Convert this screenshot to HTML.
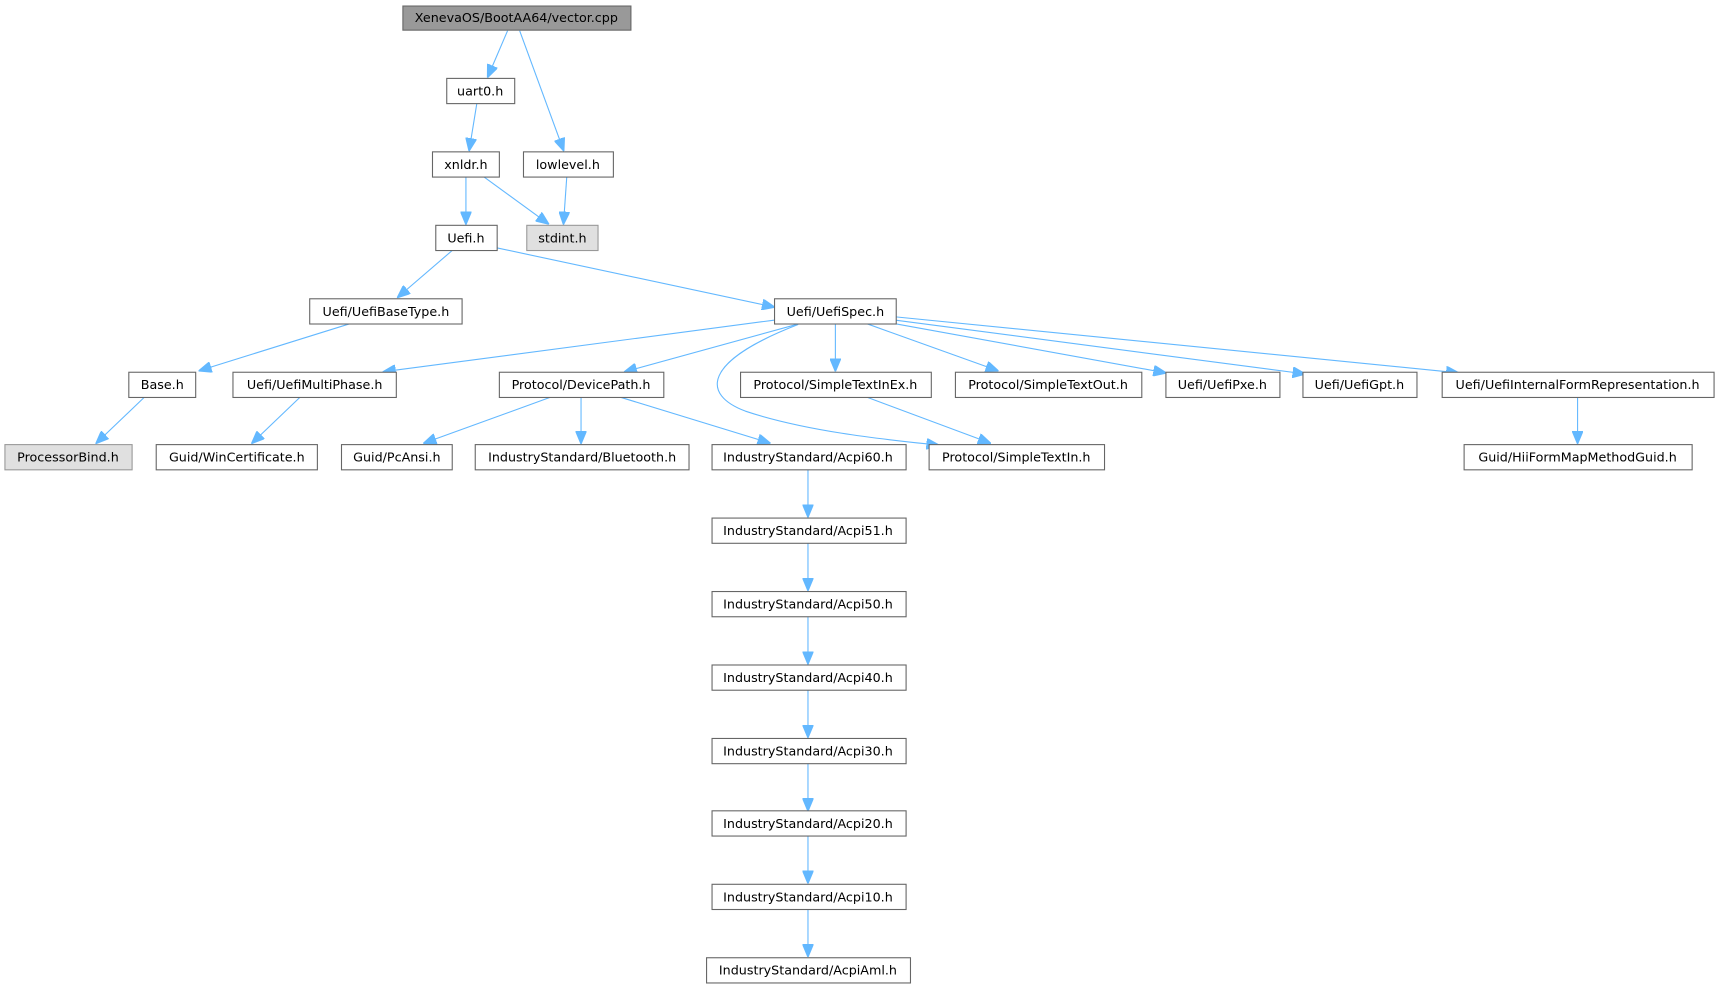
<!DOCTYPE html>
<html><head><meta charset="utf-8"><style>
html,body{margin:0;padding:0;background:#fff;}
svg{display:block;}
text{font-family:"DejaVu Sans","Liberation Sans",sans-serif;font-size:11.6px;fill:#000;}
.n{fill:#fff;stroke:#666;stroke-width:1;}
.g{fill:#e0e0e0;stroke:#999;stroke-width:1;}
.e{stroke:#63b8ff;stroke-width:1;fill:none;marker-end:url(#a);}
</style></head><body>
<svg width="1719" height="989" viewBox="0 0 1568 902" preserveAspectRatio="none">
<defs><marker id="a" markerWidth="12" markerHeight="10" refX="11" refY="5" orient="auto" markerUnits="userSpaceOnUse"><path d="M0,0 L12,5 L0,10 z" fill="#63b8ff" stroke="#63b8ff"/></marker></defs>
<path class="e" d="M463,28 L445,70"/>
<path class="e" d="M474,28 L514,137"/>
<path class="e" d="M435,94 L428,137"/>
<path class="e" d="M425,161 L425,204"/>
<path class="e" d="M441,161 L500,204"/>
<path class="e" d="M517,161 L514,204"/>
<path class="e" d="M413,228 L363,271"/>
<path class="e" d="M453,226 L706,280"/>
<path class="e" d="M320,295 L182,338"/>
<path class="e" d="M132,362 L88,404"/>
<path class="e" d="M706,292 L350,339"/>
<path class="e" d="M274,362 L230,404"/>
<path class="e" d="M730,295 L570,339"/>
<path class="e" d="M728,296 C640,330 640,360 680,375 C740,395 820,402 856,406"/>
<path class="e" d="M762,295 L762,338"/>
<path class="e" d="M790,295 L910,338"/>
<path class="e" d="M815,295 L1063,340"/>
<path class="e" d="M817,292 L1190,341"/>
<path class="e" d="M817,289 L1330,340"/>
<path class="e" d="M503,362 L387,404"/>
<path class="e" d="M530,362 L530,404"/>
<path class="e" d="M565,362 L702,404"/>
<path class="e" d="M790,362 L903,404"/>
<path class="e" d="M1439,362 L1439,404"/>
<path class="e" d="M737,428 L737,471"/>
<path class="e" d="M737,495 L737,538"/>
<path class="e" d="M737,562 L737,605"/>
<path class="e" d="M737,629 L737,672"/>
<path class="e" d="M737,696 L737,739"/>
<path class="e" d="M737,762 L737,805"/>
<path class="e" d="M737,829 L737,872"/>
<rect x="367.5" y="5.5" width="208" height="22" fill="#999" stroke="#666"/><text x="471" y="20" text-anchor="middle">XenevaOS/BootAA64/vector.cpp</text>
<rect class="n" x="407.5" y="71.5" width="62" height="23"/><text x="438" y="87" text-anchor="middle">uart0.h</text>
<rect class="n" x="394.5" y="138.5" width="61" height="23"/><text x="425" y="154" text-anchor="middle">xnldr.h</text>
<rect class="n" x="477.5" y="138.5" width="82" height="23"/><text x="518" y="154" text-anchor="middle">lowlevel.h</text>
<rect class="g" x="480.5" y="205.5" width="65" height="23"/><text x="513" y="221" text-anchor="middle">stdint.h</text>
<rect class="n" x="397.5" y="205.5" width="56" height="23"/><text x="425" y="221" text-anchor="middle">Uefi.h</text>
<rect class="n" x="282.5" y="272.5" width="139" height="23"/><text x="352" y="288" text-anchor="middle">Uefi/UefiBaseType.h</text>
<rect class="n" x="706.5" y="272.5" width="111" height="23"/><text x="762" y="288" text-anchor="middle">Uefi/UefiSpec.h</text>
<rect class="n" x="117.5" y="339.5" width="61" height="23"/><text x="148" y="355" text-anchor="middle">Base.h</text>
<rect class="n" x="212.5" y="339.5" width="149" height="23"/><text x="287" y="355" text-anchor="middle">Uefi/UefiMultiPhase.h</text>
<rect class="n" x="455.5" y="339.5" width="150" height="23"/><text x="530" y="355" text-anchor="middle">Protocol/DevicePath.h</text>
<rect class="n" x="675.5" y="339.5" width="174" height="23"/><text x="762" y="355" text-anchor="middle">Protocol/SimpleTextInEx.h</text>
<rect class="n" x="871.5" y="339.5" width="170" height="23"/><text x="956" y="355" text-anchor="middle">Protocol/SimpleTextOut.h</text>
<rect class="n" x="1063.5" y="339.5" width="104" height="23"/><text x="1115" y="355" text-anchor="middle">Uefi/UefiPxe.h</text>
<rect class="n" x="1188.5" y="339.5" width="104" height="23"/><text x="1240" y="355" text-anchor="middle">Uefi/UefiGpt.h</text>
<rect class="n" x="1315.5" y="339.5" width="248" height="23"/><text x="1439" y="355" text-anchor="middle">Uefi/UefiInternalFormRepresentation.h</text>
<rect class="g" x="4.5" y="405.5" width="116" height="23"/><text x="62" y="421" text-anchor="middle">ProcessorBind.h</text>
<rect class="n" x="142.5" y="405.5" width="147" height="23"/><text x="216" y="421" text-anchor="middle">Guid/WinCertificate.h</text>
<rect class="n" x="311.5" y="405.5" width="101" height="23"/><text x="362" y="421" text-anchor="middle">Guid/PcAnsi.h</text>
<rect class="n" x="433.5" y="405.5" width="195" height="23"/><text x="531" y="421" text-anchor="middle">IndustryStandard/Bluetooth.h</text>
<rect class="n" x="649.5" y="405.5" width="177" height="23"/><text x="737" y="421" text-anchor="middle">IndustryStandard/Acpi60.h</text>
<rect class="n" x="847.5" y="405.5" width="160" height="23"/><text x="927" y="421" text-anchor="middle">Protocol/SimpleTextIn.h</text>
<rect class="n" x="1335.5" y="405.5" width="208" height="23"/><text x="1439" y="421" text-anchor="middle">Guid/HiiFormMapMethodGuid.h</text>
<rect class="n" x="649.5" y="472.5" width="177" height="23"/><text x="737" y="488" text-anchor="middle">IndustryStandard/Acpi51.h</text>
<rect class="n" x="649.5" y="539.5" width="177" height="23"/><text x="737" y="555" text-anchor="middle">IndustryStandard/Acpi50.h</text>
<rect class="n" x="649.5" y="606.5" width="177" height="23"/><text x="737" y="622" text-anchor="middle">IndustryStandard/Acpi40.h</text>
<rect class="n" x="649.5" y="673.5" width="177" height="23"/><text x="737" y="689" text-anchor="middle">IndustryStandard/Acpi30.h</text>
<rect class="n" x="649.5" y="739.5" width="177" height="23"/><text x="737" y="755" text-anchor="middle">IndustryStandard/Acpi20.h</text>
<rect class="n" x="649.5" y="806.5" width="177" height="23"/><text x="737" y="822" text-anchor="middle">IndustryStandard/Acpi10.h</text>
<rect class="n" x="644.5" y="873.5" width="186" height="23"/><text x="737" y="889" text-anchor="middle">IndustryStandard/AcpiAml.h</text>
</svg>
</body></html>
